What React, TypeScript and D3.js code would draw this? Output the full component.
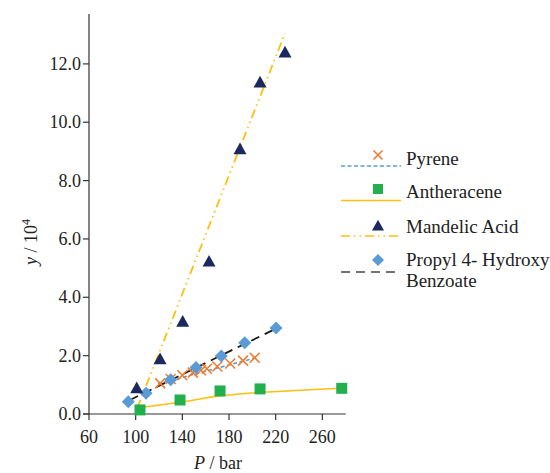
import React from "react";
import * as d3 from "d3";

const pyreneP = [121, 130, 140, 149, 156, 161, 170, 181, 192, 202];
const pyreneY = [1.05, 1.2, 1.33, 1.42, 1.5, 1.55, 1.63, 1.73, 1.83, 1.93];
const pyreneLineP = [119, 205];
const pyreneLineY = [1.03, 1.95];

const anthP = [103.7, 138, 172.3, 206.6, 276.6];
const anthY = [0.14, 0.48, 0.79, 0.86, 0.88];
const anthCurveP = [103.7, 138, 172, 207, 245, 280];
const anthCurveY = [0.22, 0.4, 0.62, 0.74, 0.82, 0.89];

const mandP = [100.9, 120.9, 140.3, 162.9, 189.4, 206.6, 228];
const mandY = [0.88, 1.87, 3.16, 5.22, 9.07, 11.36, 12.39];
const mandLineP = [101.4, 228];
const mandLineY = [0.2, 13.05];

const propP = [93.7, 108.9, 130, 151.7, 173.4, 193.5, 220.3];
const propY = [0.42, 0.71, 1.17, 1.59, 1.99, 2.44, 2.95];
const propLineP = [95.1, 219.4];
const propLineY = [0.48, 2.91];

const xTicks = [60, 100, 140, 180, 220, 260];
const yTicks = [0, 2, 4, 6, 8, 10, 12];

const C = {
  orange: "#ED7D31",
  green: "#22B04E",
  navy: "#1C2860",
  blue: "#5B9BD5",
  yellow: "#FFBF0F",
  black: "#1a1a1a",
  axis: "#333",
  text: "#222",
};

const FONT = "'Liberation Serif', 'Times New Roman', serif";

const x = d3.scaleLinear().domain([60, 280]).range([89, 345.7]);
const y = d3.scaleLinear().domain([0, 13.71]).range([414, 14]);

function Cross({ cx, cy, s = 5 }: { cx: number; cy: number; s?: number }) {
  return (
    <g stroke={C.orange} strokeWidth={1.6}>
      <line x1={cx - s} y1={cy - s} x2={cx + s} y2={cy + s} />
      <line x1={cx - s} y1={cy + s} x2={cx + s} y2={cy - s} />
    </g>
  );
}
function Square({ cx, cy, s = 5.5 }: { cx: number; cy: number; s?: number }) {
  return <rect x={cx - s} y={cy - s} width={2 * s} height={2 * s} fill={C.green} />;
}
function Tri({ cx, cy, s = 6.5 }: { cx: number; cy: number; s?: number }) {
  return (
    <path
      d={`M${cx},${cy - s * 1.05} L${cx + s},${cy + s * 0.75} L${cx - s},${cy + s * 0.75} Z`}
      fill={C.navy}
    />
  );
}
function Diamond({ cx, cy, s = 6.5 }: { cx: number; cy: number; s?: number }) {
  return (
    <path
      d={`M${cx},${cy - s} L${cx + s},${cy} L${cx},${cy + s} L${cx - s},${cy} Z`}
      fill={C.blue}
    />
  );
}

export default function App() {
  const line = d3
    .line<[number, number]>()
    .x((d) => x(d[0]))
    .y((d) => y(d[1]));
  const curve = d3
    .line<[number, number]>()
    .x((d) => x(d[0]))
    .y((d) => y(d[1]))
    .curve(d3.curveMonotoneX);

  const zip = (a: number[], b: number[]) => a.map((v, i) => [v, b[i]] as [number, number]);

  const legendItems = [
    { label: ["Pyrene"], ly: 166, my: 155, kind: "cross", stroke: C.blue, dash: "4,2.5", ty: 165 },
    { label: ["Antheracene"], ly: 200.5, my: 189, kind: "square", stroke: C.yellow, dash: "", ty: 197.5 },
    { label: ["Mandelic Acid"], ly: 236, my: 226, kind: "tri", stroke: C.yellow, dash: "9,4,1.5,4,1.5,4", ty: 232.5 },
    { label: ["Propyl 4- Hydroxy", "Benzoate"], ly: 272, my: 260, kind: "diamond", stroke: "#444", dash: "9,6", ty: 266 },
  ];

  return (
    <svg
      width={550}
      height={473}
      style={{ position: "absolute", left: 0, top: 0, background: "#fff" }}
      fontFamily={FONT}
    >
      {/* axes */}
      <line x1={89} y1={14} x2={89} y2={414} stroke={C.axis} strokeWidth={1.2} />
      <line x1={83} y1={414} x2={345.7} y2={414} stroke={C.axis} strokeWidth={1.2} />
      {xTicks.map((t) => (
        <g key={"x" + t}>
          <line x1={x(t)} x2={x(t)} y1={414} y2={420} stroke={C.axis} strokeWidth={1.2} />
          <text x={x(t)} y={443} textAnchor="middle" fontSize={18} fill={C.text}>
            {t}
          </text>
        </g>
      ))}
      {yTicks.map((t) => (
        <g key={"y" + t}>
          <line x1={83} x2={89} y1={y(t)} y2={y(t)} stroke={C.axis} strokeWidth={1.2} />
          <text x={81} y={y(t) + 6} textAnchor="end" fontSize={18} fill={C.text}>
            {d3.format(".1f")(t)}
          </text>
        </g>
      ))}
      <text x={218} y={469} textAnchor="middle" fontSize={18} fill={C.text}>
        <tspan fontStyle="italic">P</tspan> / bar
      </text>
      <text
        transform="translate(37,242) rotate(-90)"
        textAnchor="middle"
        fontSize={18}
        fill={C.text}
      >
        <tspan fontStyle="italic">y</tspan> / 10
        <tspan fontSize={12} dy={-7}>4</tspan>
      </text>

      {/* fit lines */}
      <path d={curve(zip(anthCurveP, anthCurveY)) || ""} fill="none" stroke={C.yellow} strokeWidth={1.6} />
      <path d={line(zip(pyreneLineP, pyreneLineY)) || ""} fill="none" stroke={C.blue} strokeWidth={1.6} strokeDasharray="4,2.5" />
      <path d={line(zip(propLineP, propLineY)) || ""} fill="none" stroke={C.black} strokeWidth={1.8} strokeDasharray="9,6" />
      <path d={line(zip(mandLineP, mandLineY)) || ""} fill="none" stroke={C.yellow} strokeWidth={1.8} strokeDasharray="9,4,1.5,4,1.5,4" />

      {/* markers */}
      {anthP.map((p, i) => (
        <Square key={"a" + i} cx={x(p)} cy={y(anthY[i])} />
      ))}
      {pyreneP.map((p, i) => (
        <Cross key={"p" + i} cx={x(p)} cy={y(pyreneY[i])} />
      ))}
      {propP.map((p, i) => (
        <Diamond key={"d" + i} cx={x(p)} cy={y(propY[i])} />
      ))}
      {mandP.map((p, i) => (
        <Tri key={"m" + i} cx={x(p)} cy={y(mandY[i])} />
      ))}

      {/* legend */}
      {legendItems.map((it, i) => (
        <g key={"l" + i}>
          <line
            x1={341}
            x2={401}
            y1={it.ly}
            y2={it.ly}
            stroke={it.stroke}
            strokeWidth={1.6}
            strokeDasharray={it.dash || undefined}
          />
          {it.kind === "cross" && <Cross cx={378} cy={it.my} s={4.5} />}
          {it.kind === "square" && <Square cx={378} cy={it.my} s={5} />}
          {it.kind === "tri" && <Tri cx={378} cy={it.my} s={6} />}
          {it.kind === "diamond" && <Diamond cx={378} cy={it.my} s={6} />}
          {it.label.map((t, j) => (
            <text key={j} x={406} y={it.ty + j * 21} fontSize={19} fill={C.text}>
              {t}
            </text>
          ))}
        </g>
      ))}
    </svg>
  );
}
